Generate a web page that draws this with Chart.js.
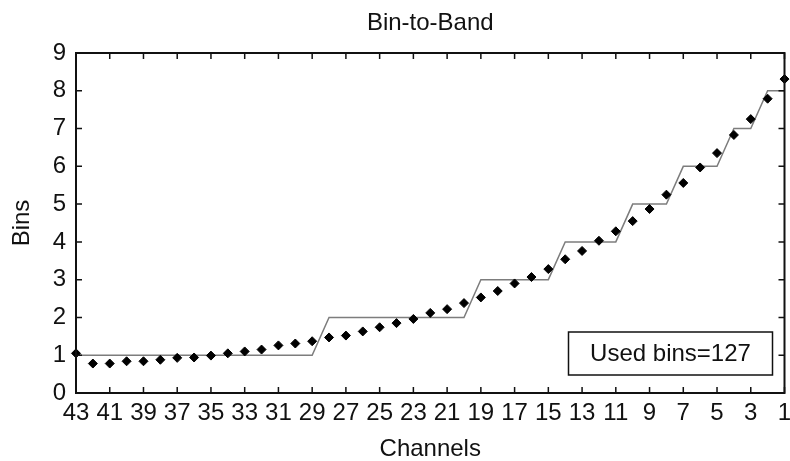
<!DOCTYPE html>
<html>
<head>
<meta charset="utf-8">
<title>Bin-to-Band</title>
<script src="https://cdn.jsdelivr.net/npm/chart.js@4/dist/chart.umd.min.js"></script>
<style>
    body { margin: 0; background: #fff; }
    #wrap { width: 790px; height: 461px; }
</style>
</head>
<body>
<div id="wrap"><canvas id="bin-chart" width="790" height="461"></canvas></div>
<script>
// channel numbers, left to right
const channels = [43, 42, 41, 40, 39, 38, 37, 36, 35, 34, 33, 32, 31, 30, 29, 28, 27, 26, 25, 24, 23, 22,
    21, 20, 19, 18, 17, 16, 15, 14, 13, 12, 11, 10, 9, 8, 7, 6, 5, 4, 3, 2, 1];

// bins given to each channel (step line)
const bins = [1, 1, 1, 1, 1, 1, 1, 1, 1, 1, 1, 1, 1, 1, 1, 2, 2, 2, 2, 2, 2, 2, 2, 2,
    3, 3, 3, 3, 3, 4, 4, 4, 4, 5, 5, 5, 6, 6, 6, 7, 7, 8, 8];

// ideal (fractional) bin count per channel (diamonds)
const idealBins = [1.05, 0.78, 0.78, 0.84, 0.84, 0.88, 0.93, 0.94, 0.99, 1.05, 1.10, 1.15, 1.26, 1.31, 1.37,
    1.47, 1.52, 1.63, 1.74, 1.85, 1.96, 2.12, 2.22, 2.38, 2.53, 2.70, 2.90, 3.07, 3.28, 3.54, 3.76,
    4.03, 4.28, 4.55, 4.87, 5.25, 5.56, 5.97, 6.35, 6.83, 7.25, 7.79, 8.31];

const channelTicks = [43, 41, 39, 37, 35, 33, 31, 29, 27, 25, 23, 21, 19, 17, 15, 13, 11, 9, 7, 5, 3, 1];
const binTicks = [0, 1, 2, 3, 4, 5, 6, 7, 8, 9];

const usedBins = bins.reduce((a, b) => a + b, 0);

const fontFamily = '"Liberation Sans", Arial, sans-serif';
const ink = '#111';

// MATLAB-ish box: title over the axes, frame, inward ticks on all sides, and the text box
const axesBox = {
    id: 'axesBox',
    afterDatasetsDraw(chart) {
        const ctx = chart.ctx;
        const a = chart.chartArea;
        const x = chart.scales.x;
        const y = chart.scales.y;
        const tickLen = 6;
        ctx.save();
        ctx.strokeStyle = ink;
        ctx.lineWidth = 1.5;
        ctx.beginPath();
        x.ticks.forEach(t => {
            const px = x.getPixelForValue(t.value);
            ctx.moveTo(px, a.bottom);
            ctx.lineTo(px, a.bottom - tickLen);
            ctx.moveTo(px, a.top);
            ctx.lineTo(px, a.top + tickLen);
        });
        y.ticks.forEach(t => {
            const py = y.getPixelForValue(t.value);
            ctx.moveTo(a.left, py);
            ctx.lineTo(a.left + tickLen, py);
            ctx.moveTo(a.right, py);
            ctx.lineTo(a.right - tickLen, py);
        });
        ctx.stroke();

        ctx.lineWidth = 2;
        ctx.strokeRect(a.left, a.top, a.right - a.left, a.bottom - a.top);

        ctx.fillStyle = ink;
        ctx.font = '24px ' + fontFamily;
        ctx.textAlign = 'center';
        ctx.textBaseline = 'middle';
        ctx.fillText('Bin-to-Band', (a.left + a.right) / 2, a.top - 30);

        // "Used bins" box in the lower right corner
        const bw = 204, bh = 43;
        const bx = a.right - 12 - bw;
        const by = a.bottom - 18 - bh;
        ctx.fillStyle = '#fff';
        ctx.fillRect(bx, by, bw, bh);
        ctx.lineWidth = 1.5;
        ctx.strokeRect(bx, by, bw, bh);
        ctx.fillStyle = ink;
        ctx.fillText('Used bins=' + usedBins, bx + bw / 2, by + bh / 2 + 1);
        ctx.restore();
    }
};

const chartCanvas = document.getElementById('bin-chart');
if(chartCanvas != undefined) {
    const binChart = new Chart(chartCanvas, {
        type: 'line',
        data: {
            datasets: [{
                label: 'ideal',
                data: channels.map((c, i) => ({x: c, y: idealBins[i]})),
                showLine: false,
                pointStyle: 'rectRot',
                pointRadius: 4.5,
                pointBackgroundColor: '#000',
                pointBorderColor: '#000',
                pointBorderWidth: 1,
                clip: false
            }, {
                label: 'bins',
                data: channels.map((c, i) => ({x: c, y: bins[i]})),
                borderColor: 'rgb(125, 125, 125)',
                borderWidth: 1.5,
                pointRadius: 0,
                fill: false,
                tension: 0
            }]
        },
        options: {
            responsive: false,
            animation: false,
            devicePixelRatio: 1,
            layout: {
                padding: {left: 0, right: 3, top: 53, bottom: 0}
            },
            scales: {
                x: {
                    type: 'linear',
                    reverse: true,
                    min: 1,
                    max: 43,
                    afterBuildTicks: s => { s.ticks = channelTicks.map(v => ({value: v})); },
                    afterFit: s => { s.height = 68; s.paddingLeft = 0; s.paddingRight = 0; },
                    grid: {display: false, drawTicks: false},
                    border: {display: false},
                    ticks: {
                        autoSkip: false,
                        maxRotation: 0,
                        padding: 8,
                        color: ink,
                        font: {family: fontFamily, size: 24, lineHeight: 1}
                    },
                    title: {
                        display: true,
                        text: 'Channels',
                        color: ink,
                        padding: {top: 0, bottom: 0},
                        font: {family: fontFamily, size: 24, lineHeight: 1}
                    }
                },
                y: {
                    min: 0,
                    max: 9,
                    afterBuildTicks: s => { s.ticks = binTicks.map(v => ({value: v})); },
                    afterFit: s => { s.width = 76; },
                    grid: {display: false, drawTicks: false},
                    border: {display: false},
                    ticks: {
                        padding: 10,
                        color: ink,
                        font: {family: fontFamily, size: 24, lineHeight: 1}
                    },
                    title: {
                        display: true,
                        text: 'Bins',
                        color: ink,
                        padding: {top: 10, bottom: 0},
                        font: {family: fontFamily, size: 24, lineHeight: 1}
                    }
                }
            },
            plugins: {
                legend: {display: false},
                tooltip: {enabled: false},
                title: {display: false}
            }
        },
        plugins: [axesBox]
    });
}
</script>
</body>
</html>
